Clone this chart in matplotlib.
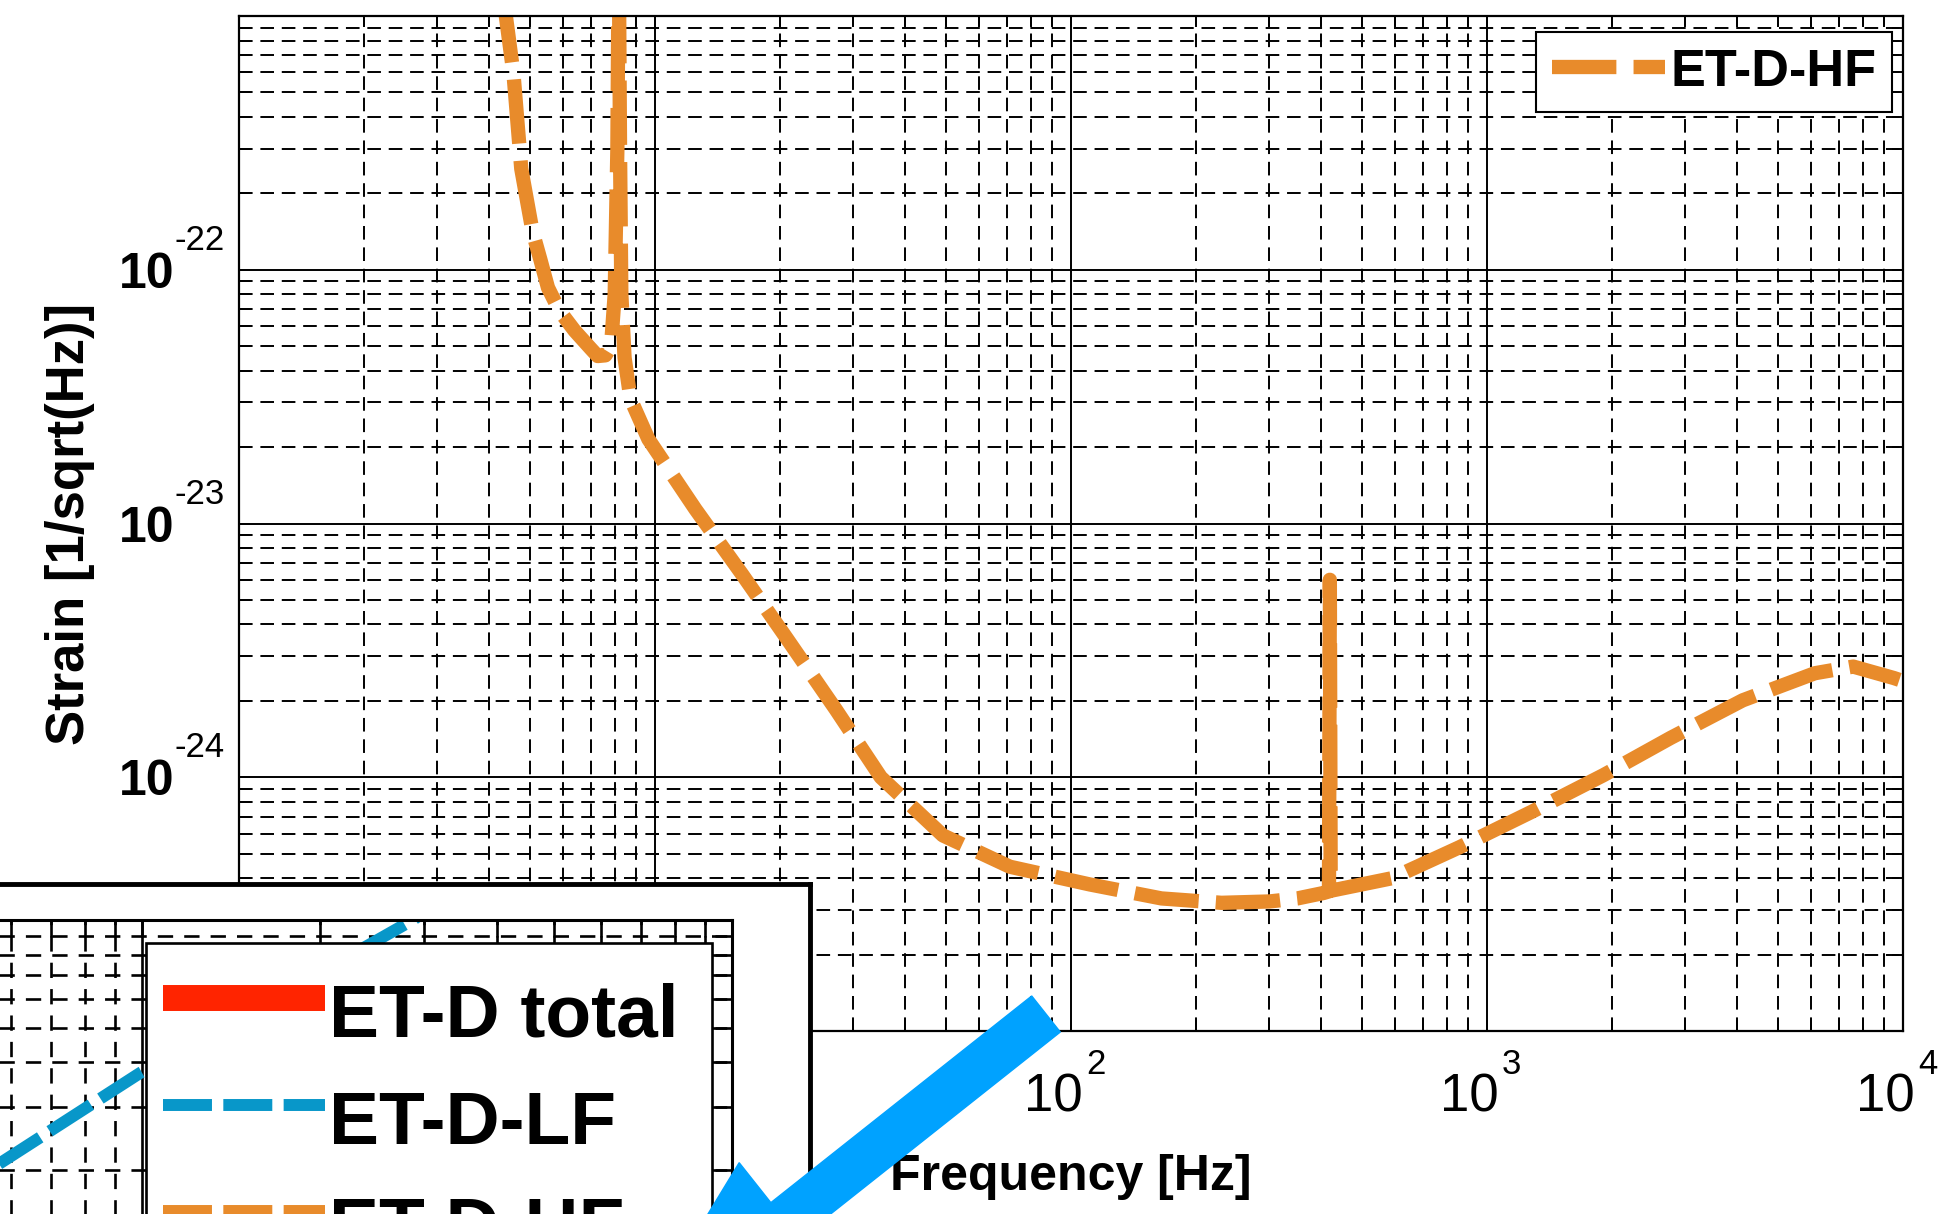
import matplotlib
matplotlib.use("Agg")
import matplotlib.pyplot as plt
from matplotlib.lines import Line2D
from matplotlib.patches import FancyArrow
from matplotlib.transforms import IdentityTransform, ScaledTranslation
from matplotlib.ticker import FixedLocator, FixedFormatter, LogLocator, NullFormatter
import numpy as np

# ---------------- data ----------------
hf_freq = [4.25, 4.38, 4.57, 4.77, 5.08, 5.30, 5.53, 5.89, 6.41, 7.0, 7.28, 7.6, 7.84,
           8.0, 8.12, 8.18, 8.24, 8.30, 8.45, 8.73, 9.64, 12.5, 16.2, 20.7, 27.2, 34.9,
           49.2, 71.3, 111, 165, 230, 300, 350, 405, 417, 419, 421, 591, 859, 1279,
           1907, 2765, 4118, 6140, 7590, 9510, 9800]
hf_strain = [1.2e-21, 1.0e-21, 5.9e-22, 2.5e-22, 1.41e-22, 1.10e-22, 8.5e-23, 6.9e-23,
             5.75e-23, 4.9e-23, 4.57e-23, 4.6e-23, 5.0e-23, 8e-23, 3e-22, 2e-21, 3e-22,
             8e-23, 4.5e-23, 3.1e-23, 2.15e-23, 1.14e-23, 6.3e-24, 3.54e-24, 1.85e-24,
             1.0e-24, 5.9e-25, 4.44e-25, 3.78e-25, 3.33e-25, 3.2e-25, 3.24e-25, 3.33e-25,
             3.5e-25, 3.55e-25, 6.0e-24, 3.57e-25, 4.0e-25, 5.3e-25, 7.3e-25, 1.02e-24,
             1.43e-24, 2.01e-24, 2.57e-24, 2.73e-24, 2.46e-24, 2.42e-24]

lf_freq = [400, 574, 993, 2340, 2877, 3500]
lf_strain = [1.43e-22, 2.09e-22, 3.74e-22, 8.24e-22, 1.0e-21, 1.25e-21]

x_ticks = [1, 10, 100, 1000, 10000]
x_exponents = ["0", "1", "2", "3", "4"]
y_ticks = [1e-25, 1e-24, 1e-23, 1e-22]
y_exponents = ["-25", "-24", "-23", "-22"]
tick_base = "10"

inset_labels = ["ET-D total", "ET-D-LF", "ET-D-HF"]

# ---------------- style ----------------
ORANGE = "#E88B2B"
BLUE = "#0897C9"
RED = "#FF2400"
ARROW = "#00A2FF"

plt.rcParams["font.family"] = ["Liberation Sans", "DejaVu Sans"]

W, H = 1953, 1214
fig = plt.figure(figsize=(W / 100, H / 100), dpi=100)

def px(v):
    return v * 72 / 100.0  # pixels -> points at dpi 100

# ---------------- main axes ----------------
ax = fig.add_axes([239 / W, 1 - 1031 / H, 1664 / W, 1015 / H])
ax.set_xscale("log")
ax.set_yscale("log")
ax.set_xlim(1, 1e4)
ax.set_ylim(1e-25, 1e-21)

ax.xaxis.set_major_locator(FixedLocator(x_ticks))
ax.xaxis.set_major_formatter(FixedFormatter([tick_base] * len(x_ticks)))
ax.yaxis.set_major_locator(FixedLocator(y_ticks + [1e-21]))
ax.yaxis.set_major_formatter(FixedFormatter([tick_base] * len(y_ticks) + [""]))
for axis in (ax.xaxis, ax.yaxis):
    axis.set_minor_locator(LogLocator(10, subs=np.arange(2, 10), numticks=100))
    axis.set_minor_formatter(NullFormatter())

ax.grid(True, which="major", color="k", lw=1.4, ls="-")
ax.grid(True, which="minor", color="k", lw=1.4, ls=(0, (7, 4)))
ax.set_axisbelow(True)
ax.tick_params(which="both", direction="in", top=True, right=True, length=8,
               width=1.4, color="k")
ax.tick_params(axis="x", which="major", labelsize=38, pad=px(41))
ax.tick_params(axis="y", which="major", labelsize=36, pad=px(65))
for lbl in ax.get_yticklabels():
    lbl.set_fontweight("bold")
for lbl in ax.get_xticklabels():
    lbl.set_horizontalalignment("right")
    lbl.set_transform(lbl.get_transform() + ScaledTranslation(12 / 100, 0, fig.dpi_scale_trans))
for s in ax.spines.values():
    s.set_linewidth(1.6)

# exponents of the tick labels
for t, e in zip(x_ticks, x_exponents):
    ax.annotate(e, xy=(t, 0), xycoords=("data", "axes fraction"),
                xytext=(px(15), px(-17)), textcoords="offset points",
                ha="left", va="top", fontsize=25)
for t, e in zip(y_ticks, y_exponents):
    ax.annotate(e, xy=(0, t), xycoords=("axes fraction", "data"),
                xytext=(px(-14), px(20)), textcoords="offset points",
                ha="right", va="baseline", fontsize=25)

ax.plot(hf_freq, hf_strain, color=ORANGE, lw=10.3, ls=(0, (4.5, 1.2)), label="ET-D-HF")

ax.set_xlabel("Frequency [Hz]", fontsize=36, fontweight="bold")
ax.xaxis.set_label_coords(0.5, -0.121)
ax.set_ylabel("Strain [1/sqrt(Hz)]", fontsize=38, fontweight="bold")
ax.yaxis.set_label_coords(-0.0865, 0.5)

leg = ax.legend(loc="upper right", bbox_to_anchor=(1892 / W, 1 - 32 / H),
                bbox_transform=fig.transFigure, prop={"weight": "bold", "size": 37.6},
                handlelength=2.17, handletextpad=0.1, borderpad=0.3, borderaxespad=0,
                fancybox=False, framealpha=1, edgecolor="k")
leg.get_frame().set_linewidth(1.5)

# ---------------- inset (pasted zoom of another chart) ----------------
box = fig.add_axes([-0.02, -0.02, 810 / W + 0.02, 1 - 884 / H + 0.02], zorder=5)
box.set_xticks([])
box.set_yticks([])
box.set_facecolor("white")
for s in box.spines.values():
    s.set_linewidth(3.5)

dec_x, dec_y = 590, 358
inner = fig.add_axes([(732 - 2 * dec_x) / W, 1 - (920 + 2 * dec_y) / H,
                      2 * dec_x / W, 2 * dec_y / H], zorder=6)
inner.set_xscale("log")
inner.set_yscale("log")
inner.set_xlim(1e2, 1e4)
inner.set_ylim(1e-23, 1e-21)
for axis in (inner.xaxis, inner.yaxis):
    axis.set_minor_locator(LogLocator(10, subs=np.arange(2, 10), numticks=100))
    axis.set_minor_formatter(NullFormatter())
inner.grid(True, which="major", color="k", lw=1.9, ls="-")
inner.grid(True, which="minor", color="k", lw=1.9, ls=(0, (5.8, 4.2)))
inner.tick_params(which="both", direction="in", top=True, right=True, length=12,
                  width=1.9, labelleft=False, labelbottom=False)
for s in inner.spines.values():
    s.set_linewidth(2.2)

lf_line, = inner.plot(lf_freq, lf_strain, color=BLUE, lw=8.6, ls=(0, (4.1, 0.95)),
                      label=inset_labels[1])
h_total = Line2D([], [], color=RED, lw=18.7, solid_capstyle="butt", label=inset_labels[0])
h_hf = Line2D([], [], color=ORANGE, lw=8.6, ls=(0, (4.1, 0.95)), label=inset_labels[2])
leg2 = inner.legend(handles=[h_total, lf_line, h_hf], loc="upper left", mode="expand",
                    bbox_to_anchor=(146 / W, 0, 566 / W, 1 - 943 / H),
                    bbox_transform=fig.transFigure,
                    prop={"weight": "bold", "size": 54}, handlelength=2.17,
                    handleheight=1.81, handletextpad=0.05, borderpad=0.22,
                    labelspacing=0.0, borderaxespad=0, fancybox=False, framealpha=1,
                    edgecolor="k")
leg2.get_frame().set_linewidth(1.9)

# ---------------- arrow ----------------
tail = (1046, H - 1014)
length = 532
dirx, diry = -0.785, -0.622
arrow = FancyArrow(tail[0], tail[1], dirx * length, diry * length, width=46,
                   head_width=148, head_length=200, length_includes_head=True,
                   color=ARROW, transform=IdentityTransform(), zorder=10)
fig.add_artist(arrow)

fig.savefig("out.png", dpi=100)
